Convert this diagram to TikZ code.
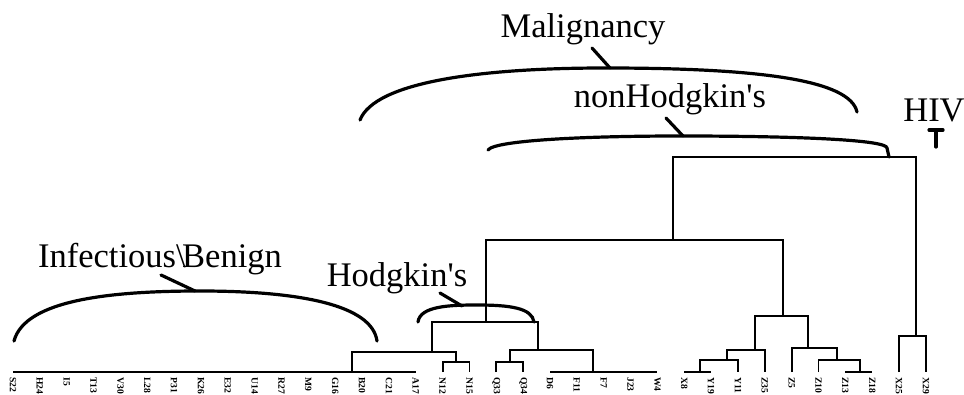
\documentclass[tikz,border=0pt]{standalone}
\usepackage{fontspec}
\setmainfont{Liberation Serif}
\begin{document}
\begin{tikzpicture}[x=0.5pt,y=-0.5pt,
  tree/.style={draw,line width=0.9pt},
  brace/.style={draw,line width=1.6pt,line cap=round},
  group/.style={font=\fontsize{17.25}{20}\selectfont,inner sep=0pt,anchor=base},
  leaf/.style={font=\fontsize{4.8}{5}\selectfont\bfseries,inner sep=0pt,rotate=-90,anchor=west}]
\useasboundingbox (0,0) rectangle (964,395);

% leaves and their codes
\foreach \t [count=\i from 0] in {S22,H24,I5,T13,V30,L28,P31,K26,E32,U14,R27,M9,G16,B20,C21,A17,
  N12,N15,Q33,Q34,D6,F11,F7,J23,W4,X8,Y19,Y11,Z35,Z5,Z10,Z13,Z18,X25,X29} {
  \coordinate (l\i) at (13+26.85*\i,372);
  \node[leaf] (t\i) at (13+26.85*\i,377) {\t};
}

% tree
\path[tree] (l0) -- (l15);
\coordinate (a) at (352,372);
\coordinate (b) at (456,362);
\path[tree] (l16) |- (b) -| (l17);
\coordinate (ab) at (432,352);
\path[tree] (a) |- (ab) -| (b);
\coordinate (c) at (510,362);
\path[tree] (l18) |- (c) -| (l19);
\path[tree] (l20) -- (l24);
\coordinate (d) at (593,372);
\coordinate (cd) at (538,350);
\path[tree] (c) |- (cd) -| (d);
\coordinate (e) at (486,322);
\path[tree] (ab) |- (e) -| (cd);
\path[tree] (l25) -- (l26);
\coordinate (f) at (700,372);
\coordinate (g) at (727,360);
\path[tree] (f) |- (g) -| (l27);
\coordinate (h) at (755,350);
\path[tree] (g) |- (h) -| (l28);
\path[tree] (l31) -- (l32);
\coordinate (i) at (860,372);
\coordinate (j) at (837,360);
\path[tree] (l30) |- (j) -| (i);
\coordinate (k) at (808,348);
\path[tree] (l29) |- (k) -| (j);
\coordinate (m) at (783,316);
\path[tree] (h) |- (m) -| (k);
\coordinate (n) at (673,240);
\path[tree] (e) |- (n) -| (m);
\coordinate (hiv) at (916,336);
\path[tree] (l33) |- (hiv) -| (l34);
\coordinate (root) at (795,157);
\path[tree] (n) |- (root) -| (hiv);

% group labels
\node[group] (malig) at (583,38) {Malignancy};
\node[group] (nonhodg) at (670,108) {nonHodgkin\textquotesingle s};
\node[group] (hivlab) at (934,122) {HIV};
\node[group] (infect) at (160,268) {Infectious\textbackslash\kern-0.1em Benign};
\node[group] (hodg) at (397,286) {Hodgkin\textquotesingle s};

% braces
\path[brace] (360,120) .. controls (375,82) and (480,68) .. (605,68)
  .. controls (760,68) and (850,80) .. (857,112);
\path[brace] (592,48) -- (610,68);
\path[brace] (488,150) .. controls (495,140) and (590,136) .. (680,136)
  .. controls (800,136) and (887,140) .. (887,148) -- (889,157);
\path[brace] (666,118) -- (683,136);
\path[brace] (929,130) -- (943,130) (936,130) -- (936,147);
\path[brace] (14,341) .. controls (25,300) and (110,291) .. (200,291)
  .. controls (300,291) and (372,305) .. (377,341);
\path[brace] (161,275) -- (195,291);
\path[brace] (418,322) .. controls (420,306) and (450,305) .. (477,305)
  .. controls (510,305) and (532,308) .. (534,322);
\path[brace] (440,293) -- (462,306);
\end{tikzpicture}
\end{document}
